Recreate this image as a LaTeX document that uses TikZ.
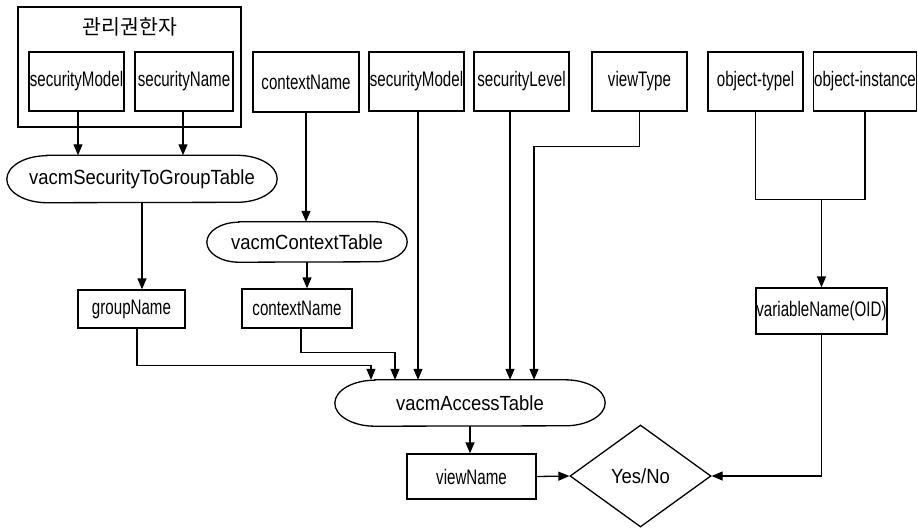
\documentclass[tikz,border=0pt]{standalone}
\usepackage{fontspec}
\setmainfont{Liberation Sans}
\newfontfamily\labfont[FakeStretch=0.72]{Liberation Sans}
\newfontfamily\elabfont[FakeStretch=0.9]{Liberation Sans}
\newfontfamily\krfont{Noto Sans CJK KR}
\usetikzlibrary{arrows.meta,shapes.geometric}
\tikzset{
  box/.style={draw, line width=1.3pt, inner sep=0pt, font=\labfont\fontsize{21}{24}\selectfont},
  stad/.style={inner sep=0pt, font=\elabfont\fontsize{20.5}{24}\selectfont},
  conn/.style={line width=1.3pt},
  arr/.style={line width=1.3pt, -{Triangle[length=11pt,width=9pt]}},
}
\newcommand\stadpath[3]{\draw[conn] ([xshift=#2pt]#1.north west) -- ([xshift=-#2pt]#1.north east)
  arc[start angle=90,end angle=-90,x radius=#2pt,y radius=#3pt] -- ([xshift=#2pt]#1.south west)
  arc[start angle=270,end angle=90,x radius=#2pt,y radius=#3pt] -- cycle;}
\begin{document}
\begin{tikzpicture}[x=1pt,y=-1pt]
\useasboundingbox (0,0) rectangle (918,528);
% top row
\node[box, minimum width=223pt, minimum height=120pt] (admin) at (129.5,67) {};
\node[font=\krfont\fontsize{20.5}{24}\selectfont, inner sep=0pt] (title) at (130,27) {관리권한자};
\node[box, minimum width=95pt, minimum height=59pt] (sm1) at (76.5,81.5) {securityModel};
\node[box, minimum width=98pt, minimum height=59pt] (sn1) at (184,81.5) {securityName};
\node[box, minimum width=106pt, minimum height=60pt] (cn) at (306,82) {contextName};
\node[box, minimum width=95pt, minimum height=59pt] (sm2) at (416.5,81.5) {securityModel};
\node[box, minimum width=95pt, minimum height=59pt] (sl) at (521.5,81.5) {securityLevel};
\node[box, minimum width=95pt, minimum height=59pt] (vt) at (639.5,81.5) {viewType};
\node[box, minimum width=95pt, minimum height=59pt] (ot) at (755.5,81.5) {object-typel};
\node[box, minimum width=103pt, minimum height=59pt] (oi) at (865,81.5) {object-instance};
% tables
\node[stad, minimum width=270pt, minimum height=47pt] (sgt) at (142,179) {vacmSecurityToGroupTable};
\stadpath{sgt}{40}{23.5}
\node[stad, minimum width=200pt, minimum height=40pt] (ct) at (307,242) {vacmContextTable};
\stadpath{ct}{32}{20}
\node[stad, minimum width=270pt, minimum height=46pt] (at) at (470,403) {vacmAccessTable};
\stadpath{at}{40}{23}
% middle row
\node[box, minimum width=107pt, minimum height=38pt] (gn) at (131.5,309) {groupName};
\node[box, minimum width=110pt, minimum height=39pt] (cn2) at (297,308.5) {contextName};
\node[box, minimum width=131pt, minimum height=46pt] (var) at (821.5,311) {variableName(OID)};
% bottom
\node[box, minimum width=129pt, minimum height=45pt] (vn) at (471.5,476.5) {viewName};
\node[draw, line width=1.3pt, diamond, aspect=1.38, minimum width=141pt, minimum height=102pt, inner sep=0pt,
  font=\elabfont\fontsize{20.5}{24}\selectfont] (yn) at (640.5,476) {Yes/No};
% connectors
\draw[arr] ([xshift=1.5pt]sm1.south) -- ([xshift=1.5pt]sm1.south |- sgt.north);
\draw[arr] ([xshift=-1pt]sn1.south) -- ([xshift=-1pt]sn1.south |- sgt.north);
\draw[arr] (sgt.south) -- (sgt.south |- gn.north);
\draw[arr] (cn.south) -- (cn.south |- ct.north);
\draw[arr] (ct.south) -- (ct.south |- cn2.north);
\draw[arr] ([xshift=5.5pt]gn.south) -- ++(0,37) -| ([xshift=-99pt]at.north);
\draw[arr] ([xshift=4pt]cn2.south) -- ++(0,24) -| ([xshift=-75pt]at.north);
\draw[arr] ([xshift=1.5pt]sm2.south) -- ([xshift=1.5pt]sm2.south |- at.north);
\draw[arr] ([xshift=-11.5pt]sl.south) -- ([xshift=-11.5pt]sl.south |- at.north);
\draw[arr] (vt.south) -- ++(0,35) -| ([xshift=64pt]at.north);
\coordinate (oj) at (var.north |- 0,199);
\draw[conn] (ot.south) -- ++(0,88) -| (oi.south);
\draw[arr] (oj) -- (var.north);
\draw[arr] (var.south) |- (yn.east);
\draw[arr] (at.south) -- (at.south |- vn.north);
\draw[arr] (vn.east) -- (yn.west);
\end{tikzpicture}
\end{document}
